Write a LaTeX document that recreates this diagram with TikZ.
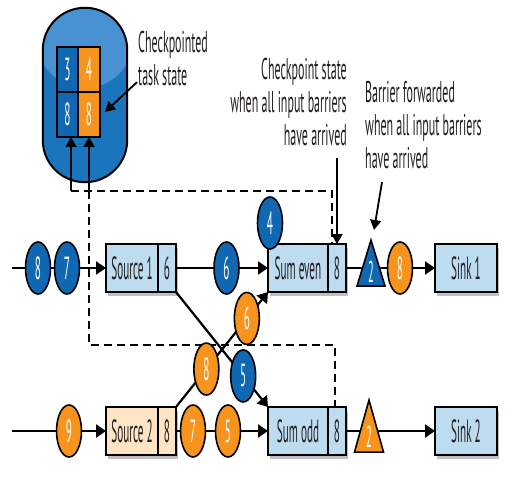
\documentclass[tikz,border=0pt]{standalone}
\usepackage{fontspec}
\setmainfont{PT Sans}[FakeStretch=0.40]
\newfontfamily\boxfont{PT Sans}[FakeStretch=0.35]
\usetikzlibrary{positioning,shapes.geometric,arrows.meta,shadows,calc}
\definecolor{dotblue}{RGB}{16,103,178}
\definecolor{dotorange}{RGB}{247,148,30}
\definecolor{boxblue}{RGB}{190,220,240}
\definecolor{boxpeach}{RGB}{253,228,196}
\definecolor{capblue}{RGB}{27,117,188}
\definecolor{caplight}{RGB}{72,146,210}
\definecolor{ink}{RGB}{35,31,32}
\pgfdeclarelayer{background}
\pgfsetlayers{background,main}

\tikzset{
  task/.style={draw, line width=1.6pt, fill=boxblue, text=ink, minimum height=48pt,
    inner sep=0pt, outer sep=0pt, font=\boxfont\fontsize{32}{34}\selectfont,
    drop shadow={shadow xshift=1.5pt, shadow yshift=-4pt, opacity=.25, fill=black}},
  bdot/.style={ellipse, draw, line width=1.6pt, fill=dotblue, text=white, minimum width=25pt,
    minimum height=52pt, inner sep=0pt, outer sep=0pt, font=\boxfont\fontsize{32}{34}\selectfont},
  odot/.style={bdot, fill=dotorange},
  btri/.style={isosceles triangle, shape border rotate=90, isosceles triangle stretches, draw,
    line width=1.6pt, fill=dotblue, text=white, minimum width=28pt, minimum height=46pt,
    inner sep=0pt, font=\boxfont\fontsize{30}{32}\selectfont},
  otri/.style={btri, fill=dotorange, minimum width=29pt, minimum height=52pt},
  cell/.style={draw, line width=2pt, minimum width=21.5pt, minimum height=45pt, inner sep=0pt,
    outer sep=0pt, text=white, font=\boxfont\fontsize{32}{34}\selectfont},
  note/.style={inner sep=0pt, text=ink, font=\fontsize{30}{33}\selectfont},
  flow/.style={line width=2.2pt, -{Triangle[length=10pt, width=13pt]}},
  callout/.style={line width=1.8pt, -{Triangle[length=10pt, width=11pt]}},
  chk/.style={line width=2pt, dash pattern=on 8pt off 5pt}
}

\begin{document}
\begin{tikzpicture}[x=1pt, y=-1pt, node distance=115pt]
          \useasboundingbox (0,0) rectangle (524,478);

          \node[fill=capblue, rounded corners=42pt, minimum width=84pt, minimum height=174pt,
            path picture={\fill[caplight] ([yshift=-32pt]path picture bounding box.north) circle [radius=48pt];}]
            (state) at (85,95) {};
          \draw[line width=2pt, rounded corners=42pt] (state.north west) rectangle (state.south east);
          \node[cell, fill=dotblue] (c3) at (67.5,69.5) {3};
          \node[cell, fill=dotorange, right=0pt of c3] (c4) {4};
          \node[cell, fill=dotblue, below=0pt of c3] (c8a) {8};
          \node[cell, fill=dotorange, right=0pt of c8a] (c8b) {8};

          \node[note, anchor=north west, align=left] (cpdtxt) at (138,31) {Checkpointed\\task state};
          \node[note, anchor=north east, align=right] (cptxt) at (347,58) {Checkpoint state\\when all input barriers\\have arrived};
          \node[note, anchor=north west, align=left] (bftxt) at (365,81) {Barrier forwarded\\when all input barriers\\have arrived};

          \node[task, minimum width=52pt] (src1) at (132,268) {Source 1};
          \node[task, minimum width=18pt, right=0pt of src1] (src1st) {6};
          \node[bdot, left=26.5pt of src1] (b7) {7};
          \node[bdot, left=4pt of b7] (b8) {8};
          \node[bdot, right=38pt of src1st] (b6) {6};
          \node[task, minimum width=60pt] (sumeven) at (298,268) {Sum even};
          \node[task, minimum width=18pt, right=0pt of sumeven] (sumevenst) {8};
          \node[bdot] (b4) at ($(sumeven.north west)+(2,-21)$) {4};
          \node[btri, anchor=apex] (tri1) at (371,238) {2};
          \node[odot, right=41.5pt of sumevenst] (o8) {8};
          \node[task, minimum width=62pt] (sink1) at (466,268) {Sink 1};

          \node[task, fill=boxpeach, minimum width=52pt, below = of src1] (src2) {Source 2};
          \node[task, fill=boxpeach, minimum width=18pt, right=0pt of src2] (src2st) {8};
          \node[odot, left=24.5pt of src2] (o9) {9};
          \node[odot, right=4.5pt of src2st] (o7) {7};
          \node[odot, right=10pt of o7] (o5) {5};
          \node[task, minimum width=60pt, below = of sumeven] (sumodd) {Sum odd};
          \node[task, minimum width=18pt, right=0pt of sumodd] (sumoddst) {8};
          \node[otri, anchor=apex] (tri2) at (369,398) {2};
          \node[task, minimum width=62pt, below = of sink1] (sink2) {Sink 2};

          \coordinate (in1) at (12,268);
          \coordinate (in2) at (12,431);
          \coordinate (tapA) at (71,191);
          \coordinate (tapB) at (89,191);
          \coordinate (ckA) at (332,191);
          \coordinate (ckB) at (335,345);
          \coordinate (bfA) at (382,182);
          \coordinate (cpdtip) at (105,112);

          \begin{pgfonlayer}{background}
            \draw[flow] (in1) -- (src1);
            \draw[flow] (src1st) -- (sumeven);
            \draw[flow] (sumevenst) -- (sink1);
            \draw[flow] (in2) -- (src2);
            \draw[flow] (src2st) -- (sumodd);
            \draw[flow] (sumoddst) -- (sink2);
            \draw[flow] (src1st.south east) -- (sumodd.north west);
            \draw[flow] (src2st.north east) -- (sumeven.south west);
            \draw[chk] (tapA) -- (ckA) -- (ckA |- sumeven.north);
            \draw[chk] (tapB) |- (ckB) -- (ckB |- sumodd.north);
          \end{pgfonlayer}

          \path (src1st.south east) -- (sumodd.north west) node[bdot, pos=.73] (b5) {5};
          \path (src2st.north east) -- (sumeven.south west) node[odot, pos=.33] (o8b) {8} node[odot, pos=.77] (o6) {6};

          \draw[callout] (tapA) -- (tapA |- c8a.south);
          \draw[callout] (tapB) -- (tapB |- c8b.south);
          \draw[callout] ([shift={(-1,-4)}]cpdtxt.south west) -- (cpdtip);
          \draw[callout] ([yshift=-12pt]cptxt.south -| sumevenst) -- (sumevenst.north);
          \draw[callout] (bfA) -- ($(tri1.apex)+(3,-8)$);
\end{tikzpicture}
\end{document}
